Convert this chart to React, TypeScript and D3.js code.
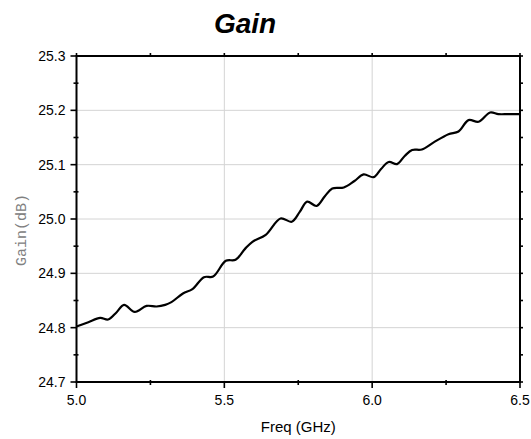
import { useEffect, useRef } from "react";
import * as d3 from "d3";

const freq = [
  5.0, 5.04, 5.08, 5.107, 5.135, 5.161, 5.197, 5.237, 5.271, 5.3, 5.321, 5.36,
  5.392, 5.431, 5.462, 5.505, 5.538, 5.57, 5.595, 5.64, 5.69, 5.728, 5.755,
  5.78, 5.812, 5.84, 5.865, 5.904, 5.94, 5.971, 6.005, 6.03, 6.056, 6.084,
  6.11, 6.135, 6.168, 6.208, 6.258, 6.292, 6.326, 6.36, 6.399, 6.427, 6.46, 6.5,
];
const gain = [
  24.802, 24.81, 24.818, 24.815, 24.828, 24.842, 24.829, 24.84, 24.839, 24.842,
  24.847, 24.863, 24.871, 24.893, 24.894, 24.923, 24.925, 24.945, 24.958,
  24.971, 25.001, 24.995, 25.013, 25.032, 25.024, 25.042, 25.056, 25.058,
  25.07, 25.082, 25.077, 25.092, 25.105, 25.101, 25.116, 25.127, 25.128,
  25.141, 25.156, 25.161, 25.182, 25.179, 25.196, 25.193, 25.193, 25.193,
];
const xTicks = [5.0, 5.5, 6.0, 6.5];
const xMinor = [5.25, 5.75, 6.25];
const yTicks = [24.7, 24.8, 24.9, 25.0, 25.1, 25.2, 25.3];
const yMinor = [24.75, 24.85, 24.95, 25.05, 25.15, 25.25];

const W = 531;
const H = 439;
const m = { left: 76.5, right: 520, top: 56, bottom: 382 };

const App = () => {
  const ref = useRef<SVGSVGElement>(null);

  useEffect(() => {
    if (!ref.current) return;
    const svg = d3.select(ref.current);
    svg.selectAll("*").remove();

    const x = d3.scaleLinear().domain([5.0, 6.5]).range([m.left, m.right]);
    const y = d3.scaleLinear().domain([24.7, 25.3]).range([m.bottom, m.top]);
    const font = "Liberation Sans, Arial, sans-serif";

    // grid
    svg
      .selectAll(".vgrid")
      .data(xTicks.slice(1, -1))
      .enter()
      .append("line")
      .attr("x1", (d) => x(d))
      .attr("x2", (d) => x(d))
      .attr("y1", m.top)
      .attr("y2", m.bottom)
      .attr("stroke", "#d4d4d4")
      .attr("stroke-width", 1);
    svg
      .selectAll(".hgrid")
      .data(yTicks.slice(1, -1))
      .enter()
      .append("line")
      .attr("x1", m.left)
      .attr("x2", m.right)
      .attr("y1", (d) => y(d))
      .attr("y2", (d) => y(d))
      .attr("stroke", "#d4d4d4")
      .attr("stroke-width", 1);

    // curve
    const line = d3
      .line<number>()
      .x((_, i) => x(freq[i]))
      .y((d) => y(d))
      .curve(d3.curveCatmullRom.alpha(0.5));
    svg
      .append("path")
      .attr("d", line(gain))
      .attr("fill", "none")
      .attr("stroke", "#000")
      .attr("stroke-width", 2.2);

    // frame
    svg
      .append("rect")
      .attr("x", m.left)
      .attr("y", m.top)
      .attr("width", m.right - m.left)
      .attr("height", m.bottom - m.top)
      .attr("fill", "none")
      .attr("stroke", "#000")
      .attr("stroke-width", 2);

    const tick = (x1: number, y1: number, x2: number, y2: number, w = 1.6) =>
      svg
        .append("line")
        .attr("x1", x1)
        .attr("y1", y1)
        .attr("x2", x2)
        .attr("y2", y2)
        .attr("stroke", "#000")
        .attr("stroke-width", w);

    // left / bottom ticks
    yTicks.forEach((v) => tick(m.left - 6, y(v), m.left, y(v)));
    yMinor.forEach((v) => tick(m.left - 3, y(v), m.left + 2, y(v)));
    xTicks.forEach((v) => tick(x(v), m.bottom, x(v), m.bottom + 6));
    xMinor.forEach((v) => tick(x(v), m.bottom - 2, x(v), m.bottom + 3));
    // top / right small ticks
    [...yTicks, ...yMinor].forEach((v) => tick(m.right, y(v), m.right + 3, y(v)));
    [...xTicks, ...xMinor].forEach((v) => tick(x(v), m.top, x(v), m.top - 3));

    // tick labels
    svg
      .selectAll(".ylab")
      .data(yTicks)
      .enter()
      .append("text")
      .attr("x", m.left - 11)
      .attr("y", (d) => y(d) + 5)
      .attr("text-anchor", "end")
      .attr("font-family", font)
      .attr("font-size", 14)
      .text((d) => d.toFixed(1));
    svg
      .selectAll(".xlab")
      .data(xTicks)
      .enter()
      .append("text")
      .attr("x", (d) => x(d))
      .attr("y", m.bottom + 23)
      .attr("text-anchor", "middle")
      .attr("font-family", font)
      .attr("font-size", 14)
      .text((d) => d.toFixed(1));

    // titles
    svg
      .append("text")
      .attr("x", 245)
      .attr("y", 33)
      .attr("text-anchor", "middle")
      .attr("font-family", font)
      .attr("font-size", 28)
      .attr("font-weight", "bold")
      .attr("font-style", "italic")
      .text("Gain");
    svg
      .append("text")
      .attr("x", (m.left + m.right) / 2)
      .attr("y", 432)
      .attr("text-anchor", "middle")
      .attr("font-family", font)
      .attr("font-size", 15)
      .text("Freq (GHz)");
    svg
      .append("text")
      .attr("transform", `translate(26,230) rotate(-90)`)
      .attr("text-anchor", "middle")
      .attr("font-family", "'Liberation Mono', 'DejaVu Serif', serif")
      .attr("font-size", 15)
      .attr("fill", "#808080")
      .text("Gain(dB)");
  }, []);

  return (
    <svg
      ref={ref}
      width={W}
      height={H}
      style={{ position: "absolute", left: 0, top: 0, background: "#fff" }}
    />
  );
};

export default App;
